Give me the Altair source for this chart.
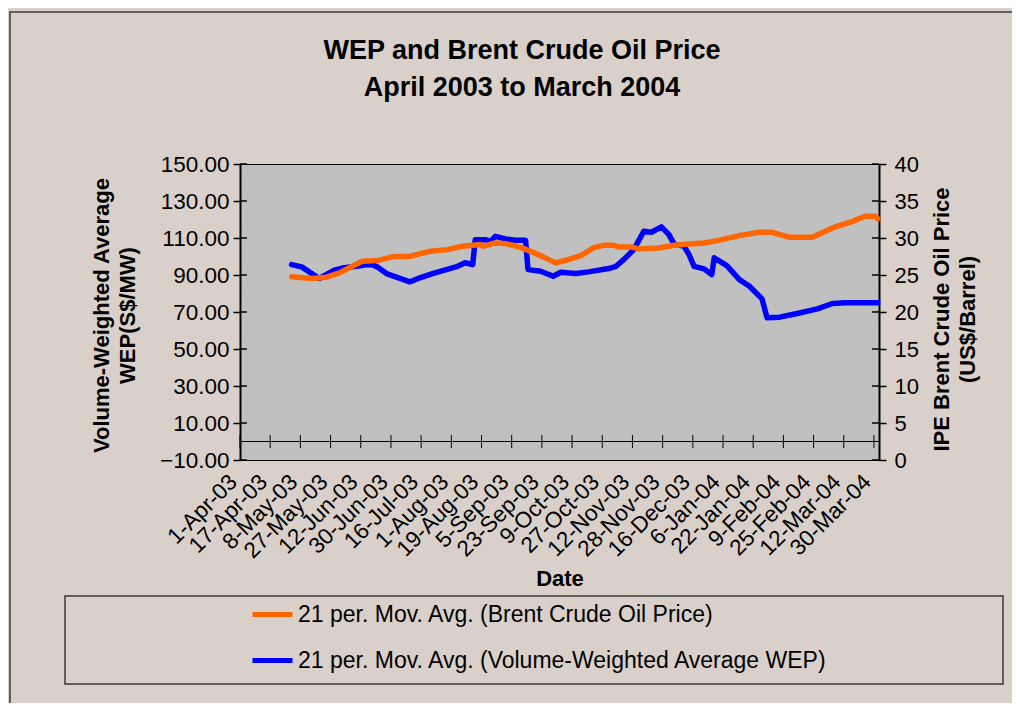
import altair as alt
import pandas as pd

title_lines = ["WEP and Brent Crude Oil Price", "April 2003 to March 2004"]
x_labels = ["1-Apr-03", "17-Apr-03", "8-May-03", "27-May-03", "12-Jun-03", "30-Jun-03",
            "16-Jul-03", "1-Aug-03", "19-Aug-03", "5-Sep-03", "23-Sep-03", "9-Oct-03",
            "27-Oct-03", "12-Nov-03", "28-Nov-03", "16-Dec-03", "6-Jan-04", "22-Jan-04",
            "9-Feb-04", "25-Feb-04", "12-Mar-04", "30-Mar-04"]
label_step = 12
n_days = 254

wep_series = "21 per. Mov. Avg. (Volume-Weighted Average WEP)"
brent_series = "21 per. Mov. Avg. (Brent Crude Oil Price)"

wep_day = [20, 24, 31, 37, 41, 48, 50, 52, 54, 58, 67, 71, 76, 86, 89, 92, 93, 97, 99, 101,
           105, 109, 113, 114, 119, 124, 127, 133, 138, 146, 149, 152, 156, 160, 163, 167,
           170, 172, 176, 178, 180, 184, 187, 188, 193, 198, 202, 207, 209, 214, 221, 229,
           235, 240, 253]
wep_value = [95.6, 94.4, 88.1, 92.6, 93.9, 95.1, 95.6, 95.6, 94.4, 90.6, 86.3, 88.5, 90.8,
             94.7, 96.6, 95.6, 109.1, 109.1, 108.2, 110.9, 109.5, 108.8, 108.8, 92.9, 92.0,
             89.3, 91.5, 90.8, 91.7, 93.5, 94.7, 98.3, 103.7, 113.6, 113.1, 116.0, 111.8,
             106.8, 105.5, 101.0, 94.7, 93.3, 90.2, 99.3, 95.1, 87.5, 83.9, 77.1, 66.9, 67.2,
             69.2, 71.7, 74.6, 75.0, 75.0]

brent_day = [20, 28, 34, 39, 48, 54, 60, 67, 75, 82, 88, 95, 96, 101, 105, 111, 115, 120,
             125, 129, 135, 140, 144, 148, 150, 155, 158, 166, 172, 178, 184, 188, 194, 198,
             206, 211, 218, 227, 235, 243, 248, 252, 253]
brent_value = [24.75, 24.52, 24.70, 25.29, 26.86, 26.95, 27.45, 27.53, 28.20, 28.43, 28.88,
               29.11, 28.88, 29.34, 29.24, 28.74, 28.20, 27.45, 26.64, 26.99, 27.62, 28.66,
               29.01, 29.01, 28.80, 28.80, 28.53, 28.66, 29.01, 29.20, 29.34, 29.55, 30.01,
               30.32, 30.77, 30.77, 30.09, 30.09, 31.36, 32.25, 32.93, 32.93, 32.62]

left_ticks = [-10, 10, 30, 50, 70, 90, 110, 130, 150]
right_ticks = [0, 5, 10, 15, 20, 25, 30, 35, 40]
left_title = ["Volume-Weighted Average", "WEP(S$/MW)"]
right_title = ["IPE Brent Crude Oil Price", "(US$/Barrel)"]

FONT = "Liberation Sans"
W, H = 639, 296
ORANGE, BLUE = "#FF6600", "#0000FF"

x_scale = alt.Scale(domain=[0, n_days], nice=False, zero=False)
left_scale = alt.Scale(domain=[-10, 150], nice=False, zero=False)
right_scale = alt.Scale(domain=[0, 40], nice=False, zero=False)
color_scale = alt.Scale(domain=[brent_series, wep_series], range=[ORANGE, BLUE])

wep_df = pd.DataFrame({"pos": [d + 0.5 for d in wep_day], "value": wep_value, "series": wep_series})
brent_df = pd.DataFrame({"pos": [d + 0.5 for d in brent_day], "value": brent_value, "series": brent_series})
tick_pos = [i * label_step for i in range(len(x_labels))]
tick_df = pd.DataFrame({"pos": tick_pos, "lo": -3.5, "hi": 3.5})
zero_df = pd.DataFrame({"pos": [0], "end": [n_days], "lo": [0]})
left_tick_df = pd.DataFrame({"value": left_ticks})
right_tick_df = pd.DataFrame({"value": right_ticks})
one_df = pd.DataFrame({"k": [0]})
title_df = pd.DataFrame({"t": ["\n".join(title_lines)]})

label_expr = "[" + ",".join("'%s'" % s for s in x_labels) + "][round(datum.value / %d)]" % label_step

x_axis = alt.Axis(values=tick_pos, labelExpr=label_expr, labelAngle=315, labelAlign="right",
                  labelBaseline="middle", labelFontSize=22.5, labelFont=FONT, labelColor="black",
                  labelPadding=18, labelOffset=-7, ticks=False, tickSize=0, domain=False,
                  grid=False, labelOverlap=False, labelFlush=False,
                  title="Date", titleFont=FONT, titleFontSize=22, titleFontWeight="bold",
                  titleColor="black", titleY=118, titleBaseline="middle")

left_axis = alt.Axis(values=left_ticks, format=".2f", orient="left", labelFontSize=22.5,
                     labelFont=FONT, labelColor="black", tickSize=7, tickColor="black",
                     tickWidth=1.5, domainColor="black", domainWidth=2, labelPadding=4,
                     grid=False, title=left_title, titleFont=FONT, titleFontSize=22,
                     titleFontWeight="bold", titleColor="black", titleLineHeight=26,
                     titleAngle=270, titleX=-139, titleY=151, titleBaseline="middle",
                     titleAlign="center")

right_axis = alt.Axis(values=right_ticks, format="d", orient="right", labelFontSize=22,
                      labelFont=FONT, labelColor="black", tickSize=7, tickColor="black",
                      tickWidth=1.5, domainColor="black", domainWidth=2, labelPadding=8,
                      grid=False, title=right_title, titleFont=FONT, titleFontSize=22,
                      titleFontWeight="bold", titleColor="black", titleLineHeight=26,
                      titleAngle=270, titleX=62, titleY=155, titleBaseline="middle",
                      titleAlign="center")

legend = alt.Legend(orient="none", legendX=10, legendY=428, title=None, symbolType="stroke",
                    symbolSize=1600, symbolStrokeWidth=5, labelFont=FONT, labelFontSize=23,
                    labelColor="black", labelLimit=1000, rowPadding=11, labelOffset=3, padding=0)

frame = alt.Chart(one_df).mark_rect(fillOpacity=0, stroke="#3a3a3a", strokeWidth=1.5).encode(
    x=alt.value(-230), x2=alt.value(800), y=alt.value(-152), y2=alt.value(600))
legend_box = alt.Chart(one_df).mark_rect(fillOpacity=0, stroke="#3a3a3a", strokeWidth=1.5).encode(
    x=alt.value(-175), x2=alt.value(763), y=alt.value(432), y2=alt.value(520))
title_text = alt.Chart(title_df).mark_text(
    font=FONT, fontSize=27, fontWeight="bold", color="black", align="center",
    baseline="middle", lineBreak="\n", lineHeight=37).encode(
    x=alt.value(282), y=alt.value(-113), text="t:N")

zero_rule = alt.Chart(zero_df).mark_rule(color="black", strokeWidth=1).encode(
    x=alt.X("pos:Q", scale=x_scale, axis=x_axis), x2="end:Q",
    y=alt.Y("lo:Q", scale=left_scale, axis=left_axis))
x_ticks = alt.Chart(tick_df).mark_rule(color="black", strokeWidth=1).encode(
    x=alt.X("pos:Q", scale=x_scale, axis=x_axis),
    y=alt.Y("lo:Q", scale=left_scale, axis=left_axis), y2="hi:Q")
left_inner = alt.Chart(left_tick_df).mark_rule(color="black", strokeWidth=1.5).encode(
    x=alt.value(0), x2=alt.value(7), y=alt.Y("value:Q", scale=left_scale, axis=left_axis))

wep_line = alt.Chart(wep_df).mark_line(strokeWidth=5.5, strokeCap="round", strokeJoin="round").encode(
    x=alt.X("pos:Q", scale=x_scale, axis=x_axis),
    y=alt.Y("value:Q", scale=left_scale, axis=left_axis),
    color=alt.Color("series:N", scale=color_scale, legend=legend))

right_inner = alt.Chart(right_tick_df).mark_rule(color="black", strokeWidth=1.5).encode(
    x=alt.value(W - 7), x2=alt.value(W), y=alt.Y("value:Q", scale=right_scale, axis=right_axis))

brent_line = alt.Chart(brent_df).mark_line(strokeWidth=5.5, strokeCap="round", strokeJoin="round").encode(
    x=alt.X("pos:Q", scale=x_scale, axis=x_axis),
    y=alt.Y("value:Q", scale=right_scale, axis=right_axis),
    color=alt.Color("series:N", scale=color_scale, legend=legend))

left_group = alt.layer(wep_line, zero_rule, x_ticks, left_inner, frame, legend_box, title_text)
right_group = alt.layer(brent_line, right_inner)

chart = alt.layer(left_group, right_group).resolve_scale(y="independent").properties(
    width=W, height=H,
    padding={"left": 232, "top": 156, "right": 133, "bottom": 243},
    autosize=alt.AutoSizeParams(type="none"),
    background="#D9D0C9",
).configure_view(fill="#C0C0C0", stroke="black", strokeWidth=1)

chart.save("out.html", embed_options={"renderer": "svg", "actions": False})
